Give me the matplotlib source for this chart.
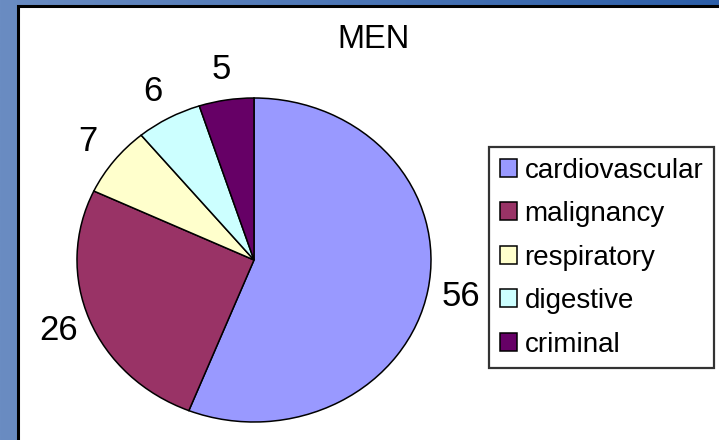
import numpy as np
import matplotlib.pyplot as plt
from matplotlib.patches import Rectangle
from matplotlib.colors import LinearSegmentedColormap

causes = ['cardiovascular', 'malignancy', 'respiratory', 'digestive', 'criminal']
shares = [56, 26, 7, 6, 5]
colors = ['#9999ff', '#993366', '#ffffcc', '#ccffff', '#660066']
title = 'MEN'

plt.rcParams['font.family'] = ['Liberation Sans', 'DejaVu Sans']

W, H = 719, 440
fig = plt.figure(figsize=(W / 100, H / 100), dpi=100)

# slide backdrop: blue gradient
bg = fig.add_axes([0, 0, 1, 1])
grad = np.outer(np.ones(16), np.linspace(0, 1, 256))
slide = LinearSegmentedColormap.from_list('slide', ['#6a8cc2', '#2c5ea8'])
bg.imshow(grad, cmap=slide, aspect='auto', extent=[0, 1, 0, 1])
bg.set_xlim(0, 1)
bg.set_ylim(0, 1)
bg.axis('off')

# white chart area with black frame (runs off the right/bottom edge)
bg.add_patch(Rectangle((18 / W, -0.1), 1.2, 1.1 - 6 / H,
                       facecolor='white', edgecolor='black', linewidth=2.2))

# pie - excel draws it slightly stretched, so use auto aspect
ax = fig.add_axes([77 / W, 18 / H, 354 / W, 324 / H])
wedges, texts = ax.pie(shares, colors=colors, startangle=90, counterclock=False,
                       labels=[str(v) for v in shares], labeldistance=1.19,
                       wedgeprops=dict(edgecolor='black', linewidth=1.1),
                       textprops=dict(fontsize=25, ha='center', va='center'))
ax.set_aspect('auto')
ax.set_xlim(-1, 1)
ax.set_ylim(-1, 1)

fig.text(374 / W, 1 - 40 / H, title, fontsize=23.5, ha='center', va='center')

leg = fig.legend(wedges, causes, loc='upper left', bbox_to_anchor=(489 / W, 1 - 147 / H),
                 bbox_transform=fig.transFigure, borderaxespad=0, fontsize=20,
                 handlelength=0.62, handleheight=0.62, handletextpad=0.28,
                 labelspacing=0.63, borderpad=0.38, fancybox=False, frameon=True)
leg.get_frame().set_edgecolor('black')
leg.get_frame().set_linewidth(1.6)

fig.savefig('out.png', dpi=100)
